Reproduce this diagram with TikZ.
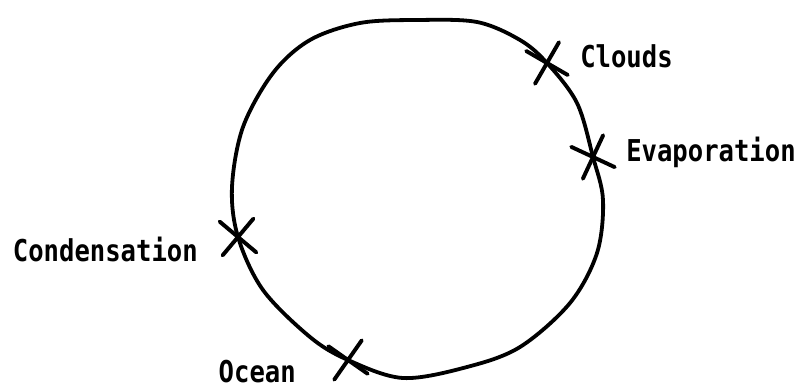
\documentclass[tikz,border=0pt]{standalone}
\usepackage{fontspec}
\newfontfamily\typefont[FakeStretch=0.85]{DejaVu Sans Mono}
\usetikzlibrary{shapes.misc}

\begin{document}
\begin{tikzpicture}[
    x=0.025cm, y=-0.025cm,
    cycleline/.style={line width=2.7pt, line join=round},
    tick/.style={draw, cross out, line width=2.8pt, line cap=round, minimum size=0.75cm, inner sep=0pt},
    phase/.style={font=\fontsize{21.4pt}{24pt}\typefont\bfseries, inner sep=0pt}
]
\useasboundingbox (0,0) rectangle (804,390);

% --- the cycle ---
\draw[cycleline] plot[smooth cycle, tension=0.55] coordinates {
    (417,20) (477,22) (520,40) (547,63) (577,103) (593,157) (603,200)
    (597,253) (570,303) (520,347) (467,367) (403,378) (348,360)
    (310,337) (263,290) (238,237) (232,187) (243,127) (273,73) (310,40) (360,23)};

% --- crosses on the cycle ---
\node[tick, rotate=15] (cloudsx) at (547,63) {};
\node[tick, rotate=20] (evapx) at (593,157) {};
\node[tick, rotate=5] (condx) at (238,237) {};
\node[tick, rotate=10] (oceanx) at (348,360) {};

% --- labels ---
\node[phase, anchor=base west] (clouds) at (580,67) {Clouds};
\node[phase, anchor=base west] (evap) at (626,161) {Evaporation};
\node[phase, anchor=base east] (cond) at (198,261) {Condensation};
\node[phase, anchor=base east] (ocean) at (296,382) {Ocean};

\end{tikzpicture}
\end{document}
